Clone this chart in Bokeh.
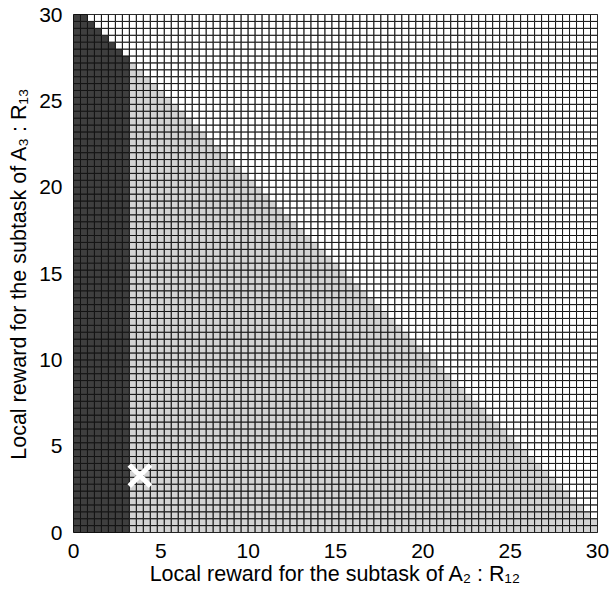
import numpy as np
from bokeh.plotting import figure
from bokeh.models import Range1d, FixedTicker
from bokeh.embed import file_html
from bokeh.resources import INLINE

# Grid definition
cell_step = 0.4            # cell width/height
n_cells = 75               # cells per axis (0 .. 30)
reward_budget = 30.0       # cells with x + y <= budget are coloured
dark_x_limit = 3.2         # cells with x < limit are dark
marker_x = [3.8]           # white cross
marker_y = [3.3]
tick_values = [0, 5, 10, 15, 20, 25, 30]

x_title = "Local reward for the subtask of A\u2082 : R\u2081\u2082"
y_title = "Local reward for the subtask of A\u2083 : R\u2081\u2083"

colors = {"dark": "#3f3f3f", "light": "#d3d3d3", "white": "#ffffff"}

left, bottom, right, top, fill = [], [], [], [], []
for i in range(n_cells):
    for j in range(n_cells):
        x0 = i * cell_step
        y0 = j * cell_step
        left.append(x0)
        bottom.append(y0)
        right.append(x0 + cell_step)
        top.append(y0 + cell_step)
        if i + j <= round(reward_budget / cell_step):
            fill.append(colors["dark"] if x0 < dark_x_limit - 1e-9 else colors["light"])
        else:
            fill.append(colors["white"])

p = figure(width=611, height=591, output_backend="svg", toolbar_location=None,
           x_range=Range1d(0, 30), y_range=Range1d(0, 30),
           min_border_left=73, min_border_right=14, min_border_top=14, min_border_bottom=59)

p.quad(left=left, right=right, bottom=bottom, top=top, fill_color=fill,
       line_color="#141414", line_width=1)
p.scatter(marker_x, marker_y, marker="x", size=30, line_color="white", line_width=5)

p.xgrid.visible = False
p.ygrid.visible = False
p.outline_line_color = "black"
p.outline_line_width = 1

for ax in (p.xaxis[0], p.yaxis[0]):
    ax.ticker = FixedTicker(ticks=tick_values)
    ax.major_tick_line_color = None
    ax.minor_tick_line_color = None
    ax.axis_line_color = None
    ax.major_label_text_font = "Liberation Sans"
    ax.major_label_text_font_size = "21px"
    ax.major_label_text_color = "black"
    ax.major_label_standoff = 5
    ax.axis_label_text_font = "Liberation Sans"
    ax.axis_label_text_font_size = "21.5px"
    ax.axis_label_text_font_style = "normal"
    ax.axis_label_text_color = "black"

p.xaxis[0].axis_label = x_title
p.xaxis[0].axis_label_standoff = 1
p.yaxis[0].axis_label = y_title
p.yaxis[0].axis_label_standoff = 5

open("out.html", "w").write(file_html(p, INLINE))
